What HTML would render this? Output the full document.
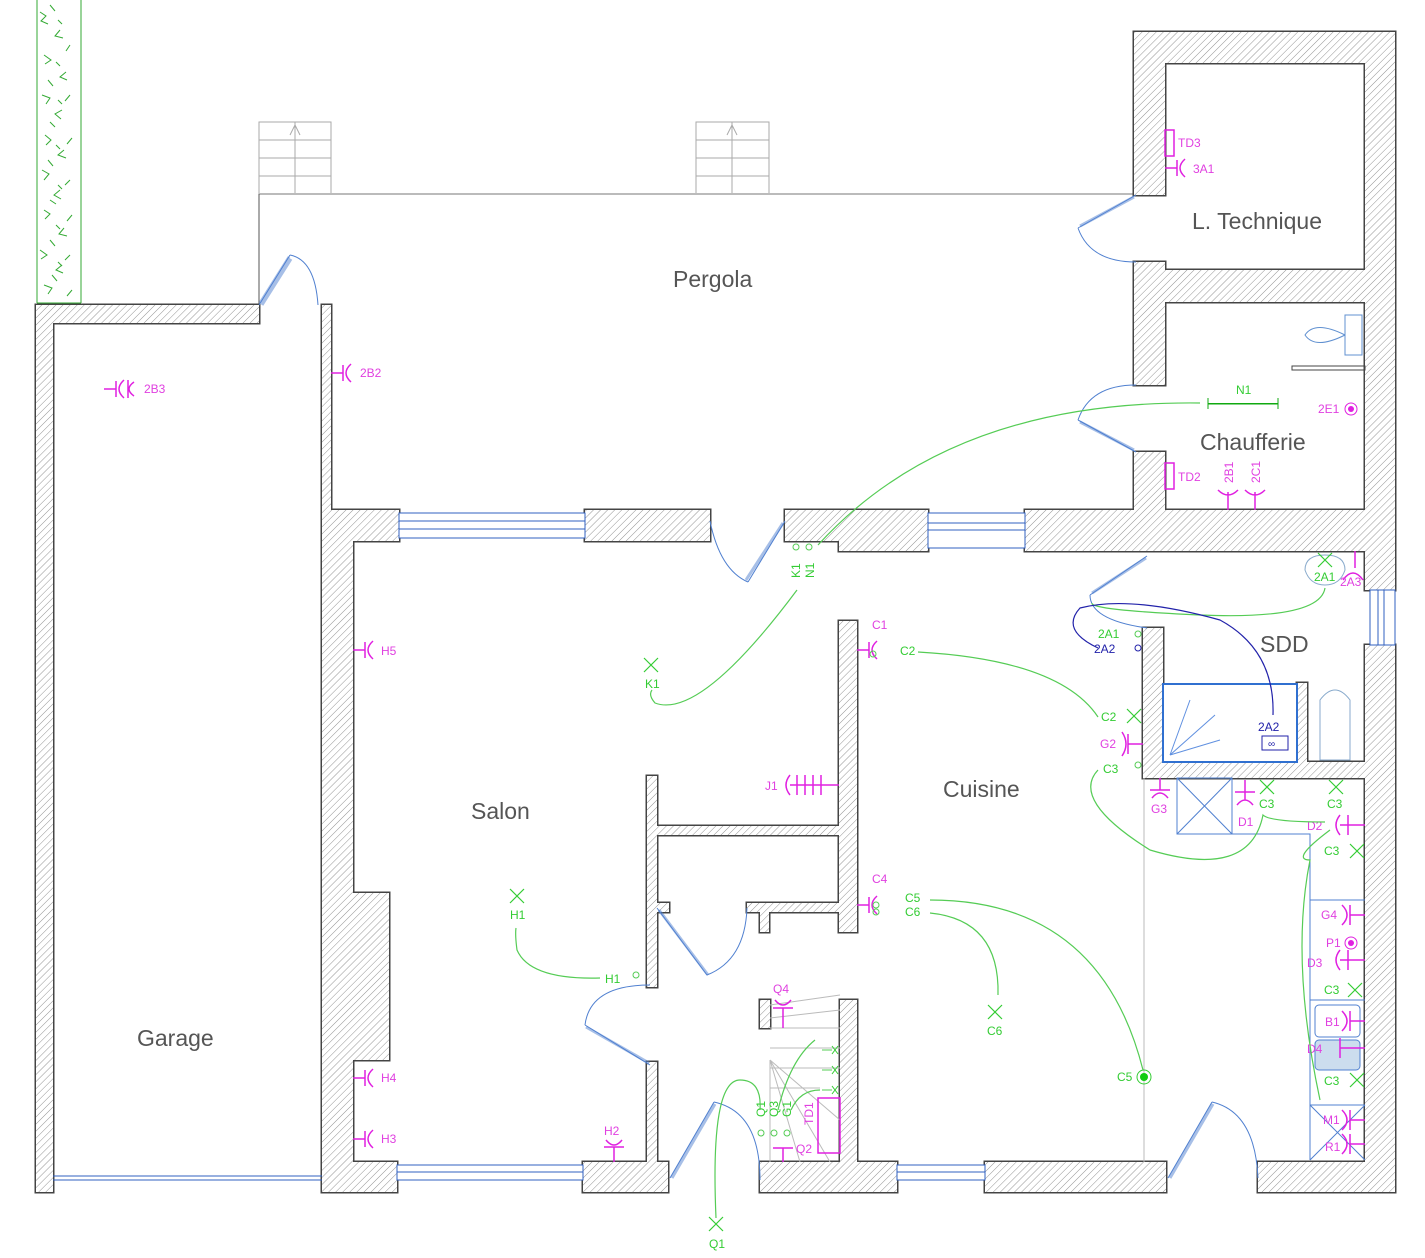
<!DOCTYPE html>
<html><head><meta charset="utf-8"><style>
html,body{margin:0;padding:0;background:#fff}
svg{display:block}
.rm{font-family:"Liberation Sans",sans-serif;font-size:23px;fill:#555}
.m{font-family:"Liberation Sans",sans-serif;font-size:12px;fill:#e040e0}
.g{font-family:"Liberation Sans",sans-serif;font-size:12px;fill:#3c3}
.b{font-family:"Liberation Sans",sans-serif;font-size:12px;fill:#22a}
.gl{fill:none;stroke:#5c5;stroke-width:1.2}
.bl{fill:none;stroke:#5080d0;stroke-width:1}
.ml{fill:none;stroke:#e020e0;stroke-width:1.5}
</style></head><body>
<svg width="1425" height="1258" viewBox="0 0 1425 1258" xmlns="http://www.w3.org/2000/svg">
<defs>
<pattern id="h" width="5" height="5" patternUnits="userSpaceOnUse" patternTransform="rotate(45)">
<rect width="5" height="5" fill="#fff"/><line x1="0" y1="0" x2="0" y2="5" stroke="#888" stroke-width="0.9"/></pattern>
<g id="o"><path class="ml" d="M0 0H12M12 -8V8M20 -9Q10 0 20 9"/></g>
<g id="x"><path d="M-7 -7L7 7M7 -7L-7 7" stroke="#3c3" stroke-width="1.2"/></g>
<g id="W">
<rect x="36" y="305" width="17" height="887"/>
<rect x="36" y="305" width="223" height="18"/>
<rect x="322" y="305" width="9" height="205"/>
<rect x="322" y="510" width="31" height="682"/>
<rect x="322" y="510" width="77" height="31"/>
<rect x="585" y="510" width="125" height="31"/>
<rect x="785" y="510" width="55" height="31"/>
<rect x="839" y="510" width="89" height="41"/>
<rect x="1025" y="510" width="370" height="41"/>
<rect x="1134" y="32" width="261" height="31"/>
<rect x="1365" y="32" width="30" height="558"/>
<rect x="1365" y="645" width="30" height="547"/>
<rect x="1134" y="32" width="31" height="163"/>
<rect x="1134" y="262" width="31" height="123"/>
<rect x="1134" y="452" width="31" height="60"/>
<rect x="1163" y="270" width="203" height="32"/>
<rect x="1143" y="628" width="20" height="150"/>
<rect x="1143" y="762" width="222" height="16"/>
<rect x="1297" y="683" width="10" height="80"/>
<rect x="839" y="621" width="18" height="311"/>
<rect x="647" y="776" width="10" height="211"/>
<rect x="657" y="826" width="182" height="9"/>
<rect x="657" y="903" width="12" height="9"/>
<rect x="747" y="903" width="92" height="9"/>
<rect x="760" y="912" width="9" height="20"/>
<rect x="353" y="893" width="36" height="167"/>
<rect x="322" y="1162" width="75" height="30"/>
<rect x="583" y="1162" width="85" height="30"/>
<rect x="647" y="1062" width="10" height="130"/>
<rect x="760" y="1000" width="10" height="28"/>
<rect x="840" y="1000" width="17" height="192"/>
<rect x="760" y="1162" width="137" height="30"/>
<rect x="985" y="1162" width="181" height="30"/>
<rect x="1258" y="1162" width="137" height="30"/>
</g>
</defs>
<rect width="1425" height="1258" fill="#fff"/>
<!-- hedge -->
<g stroke="#3a3" fill="none" stroke-width="1">
<path d="M37 0V303M81 0V303M37 303H81"/>
<path d="M40 12l6 4-5 5 7 3M60 30l-5 6 8 2M44 55l7 5-6 4M66 72l-6 5 7 3M42 95l8 3-4 6M62 110l-7 4 6 5M45 135l6 5-5 5M64 150l-6 5 8 3M42 170l7 4-5 6M60 190l-6 5 7 4M44 210l6 4-5 5M64 228l-5 6 8 2M40 250l7 5-6 4M62 265l-6 5 7 3M44 285l8 3-4 6"/>
<path d="M50 5l5 6M70 45l-4 6M48 80l5 6M70 95l-5 6M50 122l5 5M72 138l-5 6M48 160l5 6M70 180l-5 5M50 200l6 4M72 215l-5 6M50 240l5 6M70 255l-5 5M52 275l5 6M72 290l-5 6M58 20l4 4M56 62l4 4M58 100l4 4M56 145l4 4M58 185l4 4M56 225l4 4M58 262l4 4"/>
</g>
<!-- pergola -->
<rect x="259" y="122" width="72" height="72" fill="#fff" stroke="#aaa"/>
<path d="M259 140H331M259 158H331M259 176H331M295 122V194M290 135l5-10 5 10" stroke="#aaa" fill="none"/>
<rect x="696" y="122" width="73" height="72" fill="#fff" stroke="#aaa"/>
<path d="M696 140H769M696 158H769M696 176H769M732 122V194M727 135l5-10 5 10" stroke="#aaa" fill="none"/>
<path d="M259 194H1135" stroke="#bbb" stroke-width="2"/>
<path d="M259 194V305" stroke="#555"/>
<!-- walls -->
<use href="#W" fill="url(#h)" stroke="#444" stroke-width="3"/>
<use href="#W" fill="url(#h)" stroke="none"/>
<!-- windows -->
<rect x="399" y="513" width="186" height="25" fill="#fff" stroke="#3060c0"/>
<path d="M399 521H585M399 529H585" stroke="#3060c0"/>
<rect x="928" y="513" width="97" height="35" fill="#fff" stroke="#3060c0"/>
<path d="M928 523H1025M928 530H1025" stroke="#3060c0"/>
<rect x="1370" y="590" width="25" height="55" fill="#fff" stroke="#3060c0"/>
<path d="M1378 590V645M1384 590V645" stroke="#3060c0"/>
<rect x="397" y="1165" width="186" height="15" fill="#fff" stroke="#3060c0"/>
<path d="M397 1172H583" stroke="#3060c0"/>
<rect x="897" y="1165" width="88" height="15" fill="#fff" stroke="#3060c0"/>
<path d="M897 1172H985" stroke="#3060c0"/>
<path d="M53 1176H322M53 1180H322" stroke="#3060c0"/>
<!-- kitchen / fixtures -->
<path d="M1144 778V1162" stroke="#bbb"/>
<rect x="1177" y="778" width="55" height="56" fill="none" stroke="#5080d0"/>
<path d="M1177 778L1232 834M1232 778L1177 834M1232 834H1310V1160" stroke="#5080d0" fill="none"/>
<path d="M1310 900H1365M1310 1000H1365M1310 1105H1365M1310 1105L1365 1160M1365 1105L1310 1160" stroke="#5080d0" fill="none"/>
<rect x="1315" y="1005" width="45" height="32" rx="4" fill="none" stroke="#5080d0"/>
<rect x="1315" y="1040" width="45" height="30" rx="4" fill="#cde" stroke="#5080d0"/>
<rect x="1163" y="684" width="134" height="78" fill="#fff" stroke="#3070d0" stroke-width="2"/>
<path d="M1170 755L1190 700M1170 755L1215 715M1170 755L1220 740" stroke="#6090e0"/>
<rect x="1262" y="736" width="26" height="14" fill="none" stroke="#22a"/>
<text class="b" x="1268" y="747" style="font-size:10px">∞</text>
<path d="M1320 760V700q15-20 30 0V760Z" fill="none" stroke="#8ac"/>
<path d="M1305 570q0-15 20-15t20 15q-5 15-20 15t-20-15z" fill="none" stroke="#8ac"/>
<path d="M1345 315V355H1362V315Z M1345 335q-30-15-40 0q10 15 40 0" fill="none" stroke="#6090d0"/>
<rect x="1292" y="366" width="73" height="4" fill="none" stroke="#444"/>
<!-- stairs -->
<path d="M770 1028H840M770 1048H840M770 1068H840M770 1088H820M770 1005L840 995M770 1018L840 1010M770 1060L800 1162M770 1060L830 1162M770 1060L840 1120M770 1060V1162" stroke="#bbb" fill="none"/>
<rect x="818" y="1098" width="22" height="55" fill="none" stroke="#e020e0" stroke-width="1.5"/>
<!-- doors -->
<path class="bl" d="M259 305L290 255M318 305Q315 260 290 255M710 521Q720 570 748 582M785 521L748 582M1136 195L1078 228M1136 262Q1090 262 1078 228M1136 385Q1090 385 1078 420M1136 452L1078 420M1147 556L1090 595M1147 628Q1090 620 1090 595M657 908L707 975M747 908Q745 960 707 975M650 1065L585 1025M650 985Q590 985 585 1025M670 1178L714 1102M760 1180Q760 1112 714 1102M1168 1178L1212 1102M1258 1178Q1255 1112 1212 1102"/>
<path d="M260 303L289 257M262 305L291 259M1134 197L1080 226M1134 450L1080 422M708 975L659 910M586 1027L649 1063M672 1178L715 1104M1170 1178L1213 1104M783 523L746 580M1146 558L1092 593" stroke="#5080d0" stroke-width="3" fill="none" opacity="0.5"/>
<!-- room labels -->
<text class="rm" x="673" y="287">Pergola</text>
<text class="rm" x="1192" y="229">L. Technique</text>
<text class="rm" x="1200" y="450">Chaufferie</text>
<text class="rm" x="1260" y="652">SDD</text>
<text class="rm" x="943" y="797">Cuisine</text>
<text class="rm" x="471" y="819">Salon</text>
<text class="rm" x="137" y="1046">Garage</text>
<!-- magenta outlets -->
<use href="#o" transform="translate(104,389)"/><path class="ml" d="M128 380V398M134 382Q124 389 134 396"/>
<text class="m" x="144" y="393">2B3</text>
<use href="#o" transform="translate(331,373)"/><text class="m" x="360" y="377">2B2</text>
<use href="#o" transform="translate(353,650)"/><text class="m" x="381" y="655">H5</text>
<use href="#o" transform="translate(353,1078)"/><text class="m" x="381" y="1082">H4</text>
<use href="#o" transform="translate(353,1139)"/><text class="m" x="381" y="1143">H3</text>
<use href="#o" transform="translate(857,650)"/><text class="m" x="872" y="629">C1</text>
<use href="#o" transform="translate(857,905)"/><text class="m" x="872" y="883">C4</text>
<use href="#o" transform="translate(1165,168)"/><text class="m" x="1193" y="173">3A1</text>
<rect x="1165" y="130" width="9" height="26" fill="none" stroke="#e020e0" stroke-width="1.5"/><text class="m" x="1178" y="147">TD3</text>
<rect x="1165" y="463" width="9" height="26" fill="none" stroke="#e020e0" stroke-width="1.5"/><text class="m" x="1178" y="481">TD2</text>
<path class="ml" d="M1228 510V492M1218 490Q1228 500 1238 490M1255 510V492M1245 490Q1255 500 1265 490M1355 551V568M1343 580Q1353 566 1363 580"/>
<text class="m" x="1233" y="483" transform="rotate(-90 1233 483)">2B1</text>
<text class="m" x="1260" y="483" transform="rotate(-90 1260 483)">2C1</text>
<text class="m" x="1340" y="586">2A3</text>
<text class="m" x="1318" y="413">2E1</text>
<circle cx="1351" cy="409" r="6" fill="none" stroke="#e020e0"/><circle cx="1351" cy="409" r="3" fill="#e020e0"/>
<path class="ml" d="M1143 744H1128M1128 734V754M1122 732Q1130 744 1122 756"/><text class="m" x="1100" y="748">G2</text>
<path class="ml" d="M1160 778V790M1150 790H1170M1152 798Q1160 788 1168 798"/><text class="m" x="1151" y="813">G3</text>
<path class="ml" d="M1245 780V800M1235 792H1255M1237 805Q1245 795 1253 805"/><text class="m" x="1238" y="826">D1</text>
<path class="ml" d="M1365 825H1340M1348 815V835M1340 815Q1332 825 1340 835"/><text class="m" x="1307" y="830">D2</text>
<path class="ml" d="M1365 915H1350M1350 905V925M1342 905Q1352 915 1342 925"/><text class="m" x="1321" y="919">G4</text>
<circle cx="1351" cy="943" r="6" fill="none" stroke="#e020e0"/><circle cx="1351" cy="943" r="3" fill="#e020e0"/><text class="m" x="1326" y="947">P1</text>
<path class="ml" d="M1365 960H1340M1348 950V970M1340 950Q1332 960 1340 970"/><text class="m" x="1307" y="967">D3</text>
<path class="ml" d="M1365 1021H1350M1350 1011V1031M1342 1011Q1352 1021 1342 1031"/><text class="m" x="1325" y="1026">B1</text>
<path class="ml" d="M1365 1048H1340M1340 1038V1058"/><text class="m" x="1307" y="1053">D4</text>
<path class="ml" d="M1365 1120H1350M1350 1110V1130M1342 1110Q1352 1120 1342 1130"/><text class="m" x="1323" y="1124">M1</text>
<path class="ml" d="M1365 1144H1350M1350 1134V1154M1342 1134Q1352 1144 1342 1154"/><text class="m" x="1325" y="1151">R1</text>
<path class="ml" d="M839 785H790M797 775V795M805 775V795M813 775V795M821 775V795M790 775Q782 785 790 795"/><text class="m" x="765" y="790">J1</text>
<path class="ml" d="M614 1162V1147M604 1147H624M606 1140Q614 1150 622 1140"/><text class="m" x="604" y="1135">H2</text>
<path class="ml" d="M783 1028V1008M773 1008H793M775 1000Q783 1010 791 1000"/><text class="m" x="773" y="993">Q4</text>
<path class="ml" d="M783 1162V1148M773 1148H793"/><text class="m" x="796" y="1153">Q2</text>
<text class="m" x="813" y="1125" transform="rotate(-90 813 1125)">TD1</text>
<!-- green switches / points -->
<use href="#x" transform="translate(651,665)"/><text class="g" x="645" y="688">K1</text>
<use href="#x" transform="translate(517,896)"/><text class="g" x="510" y="919">H1</text>
<use href="#x" transform="translate(995,1012)"/><text class="g" x="987" y="1035">C6</text>
<use href="#x" transform="translate(716,1224)"/><text class="g" x="709" y="1248">Q1</text>
<use href="#x" transform="translate(1134,716)"/><text class="g" x="1101" y="721">C2</text>
<use href="#x" transform="translate(1325,560)"/><text class="g" x="1314" y="581">2A1</text>
<use href="#x" transform="translate(1267,787)"/><text class="g" x="1259" y="808">C3</text>
<use href="#x" transform="translate(1336,787)"/><text class="g" x="1327" y="808">C3</text>
<use href="#x" transform="translate(1357,851)"/><text class="g" x="1324" y="855">C3</text>
<use href="#x" transform="translate(1355,990)"/><text class="g" x="1324" y="994">C3</text>
<use href="#x" transform="translate(1357,1080)"/><text class="g" x="1324" y="1085">C3</text>
<circle cx="1144" cy="1077" r="7" fill="none" stroke="#3c3"/><circle cx="1144" cy="1077" r="4" fill="#1c1"/><text class="g" x="1117" y="1081">C5</text>
<rect x="1208" y="403" width="70" height="1.5" fill="#1a1"/><path d="M1208 398V409M1278 398V409" stroke="#1a1"/><text class="g" x="1236" y="394">N1</text>
<text class="g" x="900" y="655">C2</text><text class="g" x="905" y="902">C5</text><text class="g" x="905" y="916">C6</text>
<text class="g" x="1103" y="773">C3</text><text class="g" x="1098" y="638">2A1</text><text class="b" x="1094" y="653">2A2</text><text class="b" x="1258" y="731">2A2</text>
<text class="g" x="605" y="983">H1</text>
<text class="g" x="800" y="578" transform="rotate(-90 800 578)">K1</text><text class="g" x="814" y="578" transform="rotate(-90 814 578)">N1</text>
<text class="g" x="765" y="1117" transform="rotate(-90 765 1117)">Q1</text><text class="g" x="778" y="1117" transform="rotate(-90 778 1117)">Q3</text><text class="g" x="791" y="1117" transform="rotate(-90 791 1117)">G1</text>
<circle cx="873" cy="654" r="3" fill="none" stroke="#5c5"/><circle cx="876" cy="905" r="3" fill="none" stroke="#5c5"/><circle cx="876" cy="912" r="3" fill="none" stroke="#5c5"/>
<circle cx="796" cy="547" r="3" fill="none" stroke="#5c5"/><circle cx="809" cy="547" r="3" fill="none" stroke="#5c5"/>
<circle cx="636" cy="975" r="3" fill="none" stroke="#5c5"/><circle cx="1138" cy="765" r="3" fill="none" stroke="#5c5"/>
<circle cx="1138" cy="634" r="3" fill="none" stroke="#5c5"/><circle cx="1138" cy="648" r="3" fill="none" stroke="#22a"/>
<circle cx="761" cy="1133" r="3" fill="none" stroke="#5c5"/><circle cx="774" cy="1133" r="3" fill="none" stroke="#5c5"/><circle cx="787" cy="1133" r="3" fill="none" stroke="#5c5"/>
<path d="M822 1050h10M822 1070h10M822 1090h10" stroke="#5c5"/>
<path d="M832 1046l6 8M838 1046l-6 8M832 1066l6 8M838 1066l-6 8M832 1086l6 8M838 1086l-6 8" stroke="#3c3"/>
<!-- green wires -->
<path class="gl" d="M818 545Q950 400 1200 403"/>
<path class="gl" d="M797 590Q700 720 655 703Q648 695 652 690"/>
<path class="gl" d="M918 652Q1060 660 1098 717"/>
<path class="gl" d="M930 900Q1100 900 1143 1070"/>
<path class="gl" d="M930 913Q1000 920 998 995"/>
<path class="gl" d="M600 978Q530 980 517 950Q515 935 516 928"/>
<path class="gl" d="M1098 770Q1070 800 1150 850Q1250 880 1263 815Q1270 822 1325 822"/>
<path class="gl" d="M1330 830Q1290 860 1310 860Q1290 960 1320 1100"/>
<path class="gl" d="M1325 588Q1320 620 1200 615Q1090 610 1092 603"/>
<path class="gl" d="M716 1218Q710 1080 740 1080Q762 1080 760 1110"/>
<path class="gl" d="M778 1110Q790 1060 815 1040"/>
<path class="gl" d="M791 1110Q800 1090 820 1090"/>
<path d="M1098 648Q1060 630 1080 608Q1130 595 1220 620Q1275 650 1273 715" fill="none" stroke="#22a" stroke-width="1.2"/>
</svg>
</body></html>
